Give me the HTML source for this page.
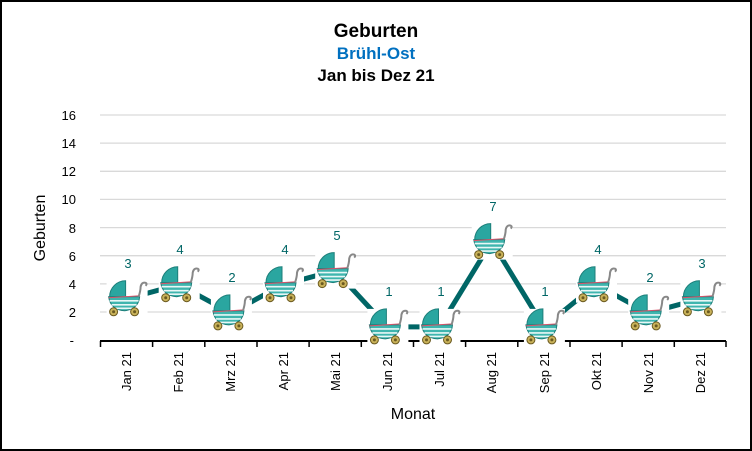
<!DOCTYPE html>
<html><head><meta charset="utf-8"><style>
body{margin:0;background:#fff}
svg{display:block}
text{font-family:"Liberation Sans",Arial,sans-serif}
</style></head><body>
<svg width="752" height="451" viewBox="0 0 752 451" xmlns="http://www.w3.org/2000/svg">
<defs>
<g id="pram">
<rect x="-20" y="-18" width="41" height="36" fill="#fff"/>
<path d="M-17,-2 A16,16 0 0 1 -1,-18 L-1,-2 Z" fill="#2aa6a0" stroke="#1d7f7a" stroke-width="1"/>
<path d="M-18,-2 L13,-2 Q12,10 -2,12 Q-16,11 -18,-2 Z" fill="#3fb5ae" stroke="#1d7f7a" stroke-width="1"/>
<path d="M-17,2 L12,2 M-15,6 L10,6 M-11,9.5 L6,9.5" stroke="#e8f7f6" stroke-width="1.6"/>
<path d="M-18,-1 L13,-3" stroke="#d9546a" stroke-width="1"/>
<path d="M12,-2 Q14,-8 14,-12 Q15,-17 19,-16 Q21,-15 19,-13" fill="none" stroke="#888" stroke-width="2"/>
<circle cx="-13" cy="13" r="4" fill="#c9b25a" stroke="#6b5a20" stroke-width="1"/>
<circle cx="-13" cy="13" r="1.5" fill="#6b5a20"/>
<circle cx="8" cy="13" r="4" fill="#c9b25a" stroke="#6b5a20" stroke-width="1"/>
<circle cx="8" cy="13" r="1.5" fill="#6b5a20"/>
</g>
</defs>
<rect x="1" y="1" width="750" height="449" fill="#fff" stroke="#000" stroke-width="2"/>
<text x="376" y="37" font-size="19" font-weight="bold" text-anchor="middle">Geburten</text>
<text x="376" y="59" font-size="17" font-weight="bold" text-anchor="middle" fill="#0070c0">Brühl-Ost</text>
<text x="376" y="81" font-size="17" font-weight="bold" text-anchor="middle">Jan bis Dez 21</text>
<g stroke="#d9d9d9" stroke-width="1.3">
<line x1="100" x2="726" y1="115" y2="115"/><line x1="100" x2="726" y1="143.1" y2="143.1"/>
<line x1="100" x2="726" y1="171.3" y2="171.3"/><line x1="100" x2="726" y1="199.4" y2="199.4"/>
<line x1="100" x2="726" y1="227.6" y2="227.6"/><line x1="100" x2="726" y1="255.7" y2="255.7"/>
<line x1="100" x2="726" y1="283.9" y2="283.9"/><line x1="100" x2="726" y1="312" y2="312"/>
</g>
<g font-size="13" text-anchor="end">
<text x="76" y="120">16</text><text x="76" y="148">14</text><text x="76" y="176">12</text>
<text x="76" y="204">10</text><text x="76" y="233">8</text><text x="76" y="261">6</text>
<text x="76" y="289">4</text><text x="76" y="317">2</text><text x="74" y="345">-</text>
</g>
<text transform="translate(45,228) rotate(-90)" font-size="16" text-anchor="middle">Geburten</text>
<line x1="100" x2="726" y1="341" y2="341" stroke="#000" stroke-width="2"/>
<g stroke="#000" stroke-width="1.5">
<line x1="100.5" x2="100.5" y1="341" y2="347"/><line x1="152.6" x2="152.6" y1="341" y2="347"/>
<line x1="204.8" x2="204.8" y1="341" y2="347"/><line x1="257" x2="257" y1="341" y2="347"/>
<line x1="309.1" x2="309.1" y1="341" y2="347"/><line x1="361.3" x2="361.3" y1="341" y2="347"/>
<line x1="413.5" x2="413.5" y1="341" y2="347"/><line x1="465.6" x2="465.6" y1="341" y2="347"/>
<line x1="517.8" x2="517.8" y1="341" y2="347"/><line x1="570" x2="570" y1="341" y2="347"/>
<line x1="622.1" x2="622.1" y1="341" y2="347"/><line x1="674.3" x2="674.3" y1="341" y2="347"/>
<line x1="726" x2="726" y1="341" y2="347"/>
</g>
<g font-size="13" text-anchor="end">
<text transform="translate(131,352) rotate(-90)">Jan 21</text>
<text transform="translate(183,352) rotate(-90)">Feb 21</text>
<text transform="translate(235,352) rotate(-90)">Mrz 21</text>
<text transform="translate(288,352) rotate(-90)">Apr 21</text>
<text transform="translate(340,352) rotate(-90)">Mai 21</text>
<text transform="translate(392,352) rotate(-90)">Jun 21</text>
<text transform="translate(444,352) rotate(-90)">Jul 21</text>
<text transform="translate(496,352) rotate(-90)">Aug 21</text>
<text transform="translate(549,352) rotate(-90)">Sep 21</text>
<text transform="translate(601,352) rotate(-90)">Okt 21</text>
<text transform="translate(653,352) rotate(-90)">Nov 21</text>
<text transform="translate(705,352) rotate(-90)">Dez 21</text>
</g>
<text x="413" y="419" font-size="16" text-anchor="middle">Monat</text>
<polyline fill="none" stroke="#006666" stroke-width="5" stroke-linejoin="round" points="126.6,298.8 178.7,284.7 230.9,312.9 283,284.7 335.2,270.6 387.4,326.9 439.5,326.9 491.7,241.6 543.9,326.9 596,284.7 648.2,312.9 700.4,298.8"/>
<use href="#pram" x="126.6" y="298.8"/><use href="#pram" x="178.7" y="284.7"/>
<use href="#pram" x="230.9" y="312.9"/><use href="#pram" x="283" y="284.7"/>
<use href="#pram" x="335.2" y="270.6"/><use href="#pram" x="387.4" y="326.9"/>
<use href="#pram" x="439.5" y="326.9"/><use href="#pram" x="491.7" y="241.6"/>
<use href="#pram" x="543.9" y="326.9"/><use href="#pram" x="596" y="284.7"/>
<use href="#pram" x="648.2" y="312.9"/><use href="#pram" x="700.4" y="298.8"/>
<g font-size="13" fill="#006666" text-anchor="middle">
<text x="128" y="268">3</text><text x="180" y="254">4</text><text x="232" y="282">2</text>
<text x="285" y="254">4</text><text x="337" y="240">5</text><text x="389" y="296">1</text>
<text x="441" y="296">1</text><text x="493" y="211">7</text><text x="545" y="296">1</text>
<text x="598" y="254">4</text><text x="650" y="282">2</text><text x="702" y="268">3</text>
</g>
</svg>
</body></html>
